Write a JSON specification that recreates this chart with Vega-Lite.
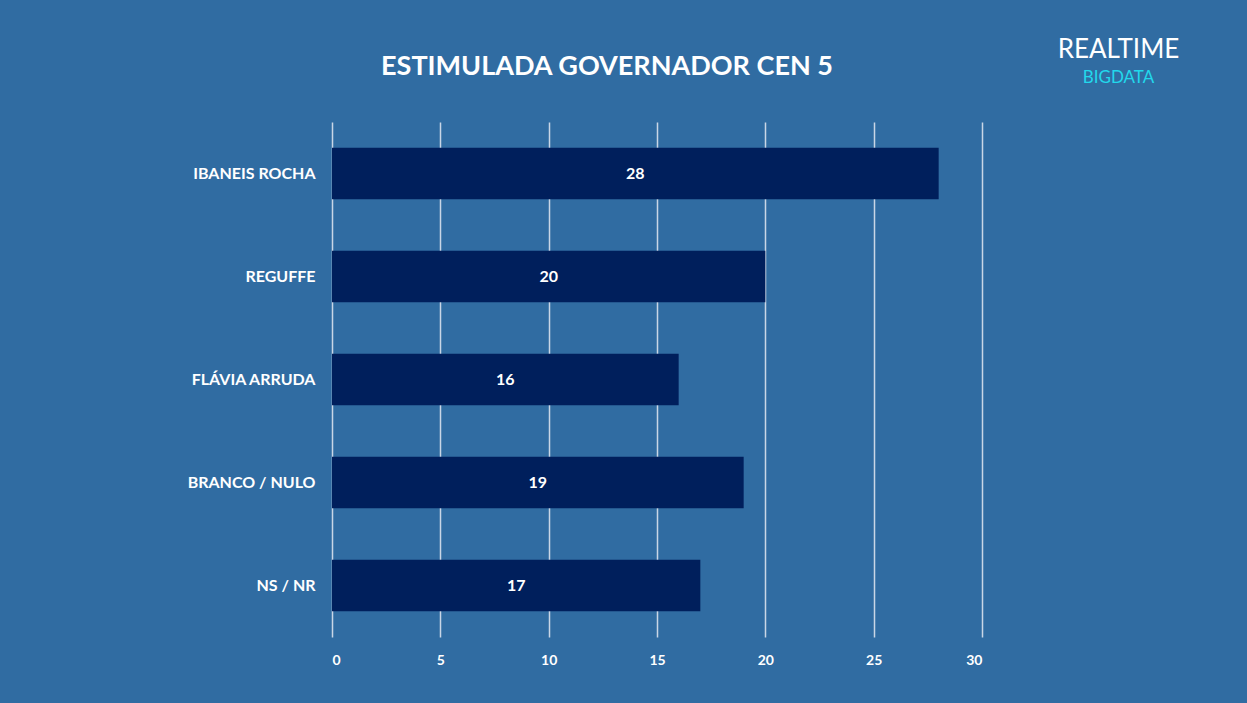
{
  "$schema": "https://vega.github.io/schema/vega-lite/v6.json",
  "autosize": "none",
  "width": 650,
  "height": 515,
  "padding": {"left": 332, "top": 122, "right": 265, "bottom": 66},
  "background": "#306CA2",
  "title": {
    "text": "ESTIMULADA GOVERNADOR CEN 5",
    "font": "Lato",
    "fontSize": 27,
    "fontWeight": "bold",
    "color": "#FFFFFF",
    "anchor": "middle",
    "dx": -50,
    "offset": -45
  },
  "data": {
    "values": [
      {"candidato": "IBANEIS ROCHA", "valor": 28},
      {"candidato": "REGUFFE", "valor": 20},
      {"candidato": "FLÁVIA ARRUDA", "valor": 16},
      {"candidato": "BRANCO / NULO", "valor": 19},
      {"candidato": "NS / NR", "valor": 17}
    ]
  },
  "encoding": {
    "y": {
      "field": "candidato",
      "type": "nominal",
      "sort": null,
      "scale": {"paddingInner": 0.5, "paddingOuter": 0.25},
      "axis": {
        "title": "REALTIME",
        "titleX": 786,
        "titleY": -73,
        "titleAngle": 0,
        "titleAlign": "center",
        "titleBaseline": "middle",
        "titleFont": "Lato",
        "titleFontSize": 26,
        "titleFontWeight": "normal",
        "titleColor": "#FFFFFF",
        "domain": false,
        "ticks": false,
        "labelPadding": 17,
        "labelFont": "Lato",
        "labelFontSize": 16,
        "labelFontWeight": "bold",
        "labelColor": "#FFFFFF"
      }
    }
  },
  "layer": [
    {
      "mark": {"type": "bar", "color": "#001F5C"},
      "encoding": {
        "x": {
          "field": "valor",
          "type": "quantitative",
          "scale": {"domain": [0, 30]},
          "axis": {
            "values": [0, 5, 10, 15, 20, 25, 30],
            "title": "BIGDATA",
            "titleX": 786,
            "titleY": -560,
            "titleAlign": "center",
            "titleBaseline": "middle",
            "titleFont": "Lato",
            "titleFontSize": 17,
            "titleFontWeight": "normal",
            "titleColor": "#22D8EC",
            "domain": false,
            "ticks": false,
            "grid": true,
            "gridColor": "#C9D6E6",
            "gridWidth": 1.5,
            "labelPadding": 16,
            "labelFont": "Lato",
            "labelFontSize": 14,
            "labelFontWeight": "bold",
            "labelColor": "#FFFFFF"
          }
        }
      }
    },
    {
      "mark": {"type": "text", "color": "#FFFFFF", "font": "Lato", "fontSize": 16, "fontWeight": "bold", "align": "center", "baseline": "middle"},
      "encoding": {
        "x": {"field": "valor", "type": "quantitative", "scale": {"domain": [0, 60]}, "axis": null},
        "text": {"field": "valor", "type": "quantitative"}
      }
    }
  ],
  "resolve": {"scale": {"x": "independent"}},
  "config": {"view": {"stroke": null}}
}
